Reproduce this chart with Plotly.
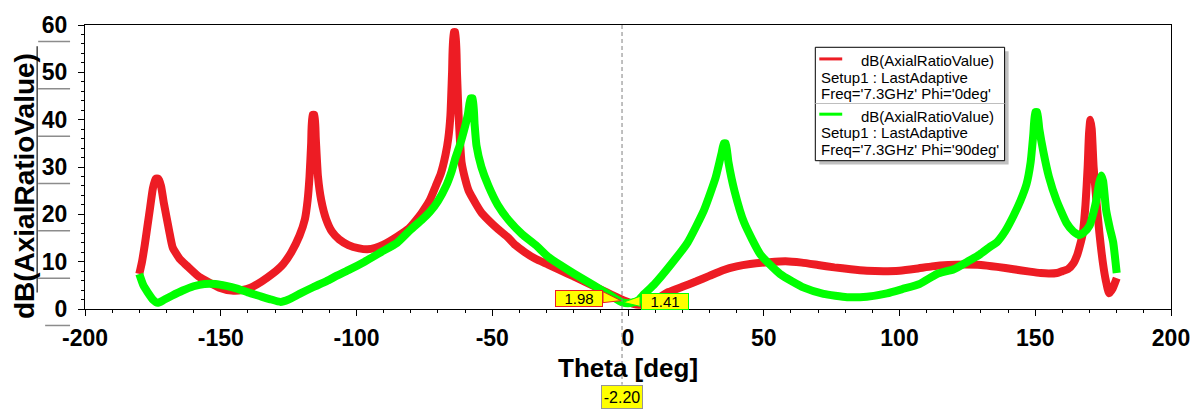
import plotly.graph_objects as go

# Axial ratio vs. theta, Phi = 0 deg cut
theta_phi0 = [-180, -179, -178, -177, -176, -175, -174, -173, -172, -171, -170, -169, -167.7, -165,
              -162.6, -158, -150.5, -146, -142, -139, -135, -131, -127, -124, -121, -119, -118,
              -117.3, -116.7, -116.2, -115.5, -115, -114.2, -113, -111.2, -109, -106.4, -103, -99,
              -96, -93, -90, -85, -80.7, -78, -76, -73, -70.8, -69, -67.2, -66.2, -65.4, -64.8,
              -64.2, -63.6, -63, -62.4, -61.3, -60, -58.7, -56, -53.9, -50, -47.7, -44, -41.5, -38,
              -34.1, -29.4, -25, -20, -15, -10, -6, -2.2, 0, 2, 4, 6, 8, 10, 15, 20, 25, 30, 35, 40,
              45, 52, 58, 64, 70, 76, 82, 88, 94, 100, 106, 112, 118, 124, 130, 136, 142, 148, 152,
              155, 158, 160, 162, 164, 165.5, 166.5, 167.5, 168.5, 169.3, 169.8, 170.3, 170.8, 171.5,
              172.5, 173.6, 175, 176, 177.2, 178.5, 180]
ar_phi0 = [7.4, 10, 13.5, 17.5, 21.5, 25.5, 27.5, 27.5, 26, 22.5, 19.5, 16.5, 13, 10.5,
           9.2, 6.8, 4.5, 3.9, 4.0, 4.5, 5.8, 7.4, 9.5, 12, 15.5, 19, 23,
           28, 35, 41, 41, 36, 28, 23, 19, 16.3, 14.7, 13.5, 12.8,
           12.6, 12.9, 13.6, 15.3, 17, 18.8, 20.3, 23, 26, 28.5, 32.6, 36, 41, 50,
           58.5, 58.5, 50, 41, 31, 27.5, 25, 22.2, 20.3, 18, 16.8, 15, 13.5, 12,
           10.6, 9.4, 8.2, 6.9, 5.5, 4.1, 3.0, 1.98, 1.5, 1.1, 0.9, 1.0, 1.4, 1.9, 3.6, 4.7, 5.8, 7, 8.2, 9.0,
           9.5, 9.9, 10.1, 9.8, 9.3, 8.8, 8.4, 8.1, 8.0, 8.1, 8.5, 9.0, 9.3, 9.4, 9.3, 8.9, 8.4, 7.9, 7.6,
           7.5, 7.6, 8.0, 8.4, 9.6, 11.5, 13.5, 16, 22, 30, 37, 40, 38, 30,
           23, 16.2, 9.4, 6, 3.3, 4.3, 6.5]

# Axial ratio vs. theta, Phi = 90 deg cut
theta_phi90 = [-180, -178.5, -177, -175, -173.2, -171, -168, -164, -160, -156, -152, -148, -144, -140,
               -136, -132, -128, -125, -121, -116, -111, -107, -103, -97, -91, -85, -80, -76, -73,
               -70, -67, -65, -63.5, -62, -60.5, -59, -58, -57.2, -56.5, -55.8, -54, -51.4, -48, -44,
               -39, -34, -29.4, -25, -20, -15, -10, -6, -2.2, 0, 2, 3.7, 6, 9.8, 15.8, 22, 28, 32.3,
               34.5, 35.3, 36, 37, 39.2, 42.8, 48.8, 56, 64.8, 72, 80.7, 88, 95.4, 101, 107.5, 113.8,
               120, 125, 129.5, 133, 136, 139, 142, 144.5, 146.8, 148.3, 149.3, 150, 150.7, 151.5,
               153, 155, 157.8, 161.5, 164, 166.2, 168, 170, 171.5, 172.5, 173.5, 174.3, 175, 176.1,
               177.5, 178.7, 180]
ar_phi90 = [7.4, 5, 3.6, 2, 1.3, 1.9, 2.8, 3.9, 4.8, 5.3, 5.3, 4.9, 4.3, 3.5,
            2.8, 2.1, 1.5, 2.0, 3.2, 4.6, 5.9, 7.1, 8.2, 10, 12, 14, 16.8, 18.8, 20.5,
            22.8, 26, 29, 32, 34.5, 37.5, 41, 44.5, 44.5, 39, 34.5, 30, 26, 22, 18.8,
            15.8, 13.5, 11, 9.3, 7.5, 5.8, 4.1, 2.7, 1.41, 1.2, 1.4, 1.8, 3.2, 5.3, 9.4, 14.1, 20.9, 27.8,
            33, 35, 35, 31, 25, 18.2, 11.5, 7.4, 4.5, 3.2, 2.5, 2.6, 3.3, 4.2, 5.3, 7.4,
            8.4, 10, 11.5, 13, 14.2, 16.5, 19.7, 22.8, 26.4, 31, 37, 41.6, 41.6, 38,
            33.2, 28, 23, 18.2, 16.4, 15.6, 16.2, 17.6, 20.5, 23, 26.5, 28.2, 27, 20.9,
            17, 14.1, 7.6]

x_tick_vals = [-200, -150, -100, -50, 0, 50, 100, 150, 200]
x_tick_text = ["-200", "-150", "-100", "-50", "0", "50", "100", "150", "200"]
y_tick_vals = [0, 10, 20, 30, 40, 50, 60]
y_tick_text = ["0", "10", "20", "30", "40", "50", "60"]

marker_theta = -2.2
marker_phi0 = 1.98
marker_phi90 = 1.41

legend_blocks = [
    ["dB(AxialRatioValue)", "Setup1 : LastAdaptive", "Freq='7.3GHz' Phi='0deg'"],
    ["dB(AxialRatioValue)", "Setup1 : LastAdaptive", "Freq='7.3GHz' Phi='90deg'"],
]

RED = "rgb(237,28,36)"
GREEN = "rgb(0,255,0)"
YELLOW = "rgb(255,255,0)"
FONT = "Liberation Sans, Arial, sans-serif"

W, H = 1202, 415
ML, MR, MT, MB = 85, 27, 16, 106
PW, PH = W - ML - MR, H - MT - MB


def px(xp):
    return (xp - ML) / PW


def py(yp):
    return (H - MB - yp) / PH


fig = go.Figure()
fig.add_trace(go.Scatter(x=theta_phi0, y=ar_phi0, mode="lines",
                         line=dict(color=RED, width=8, shape="spline", smoothing=0.5), hoverinfo="skip"))
fig.add_trace(go.Scatter(x=theta_phi90, y=ar_phi90, mode="lines",
                         line=dict(color=GREEN, width=8, shape="spline", smoothing=0.5), hoverinfo="skip"))

shapes = []
annotations = []

# marker line through the plot down to the theta readout
shapes.append(dict(type="line", xref="x", yref="paper", x0=marker_theta, x1=marker_theta,
                   y0=1, y1=py(387), line=dict(color="rgb(128,128,128)", width=1, dash="4px,3px")))
annotations.append(dict(xref="x", yref="paper", x=marker_theta, y=py(399.5), text="%.2f" % marker_theta,
                        xanchor="center", yanchor="middle",
                        showarrow=False, bgcolor=YELLOW, bordercolor="rgb(150,150,150)", borderwidth=1,
                        borderpad=1, width=38, height=20, font=dict(family=FONT, size=16, color="black")))

# value callouts
for val, dx, col, wedge in [
    (marker_phi0, -43, RED, "M -19 8 L -1 -1 L -19 -3 Z"),
    (marker_phi90, 43, GREEN, "M 18 6 L 1 0 L 18 -4 Z"),
]:
    shapes.append(dict(type="path", xref="x", yref="y", xsizemode="pixel", ysizemode="pixel",
                       xanchor=marker_theta, yanchor=val, path=wedge, fillcolor=YELLOW,
                       line=dict(color=col, width=1), layer="above"))
    annotations.append(dict(xref="x", yref="y", x=marker_theta, y=val, xshift=dx, yshift=1,
                            text="%.2f" % val, showarrow=False, bgcolor=YELLOW, bordercolor=col,
                            borderwidth=1, borderpad=0, width=46, height=15,
                            font=dict(family=FONT, size=15, color="black")))

# axis titles
annotations.append(dict(xref="paper", yref="paper", x=px(25), y=py(182), text="<b>dB(AxialRatioValue)</b>",
                        xanchor="center", yanchor="middle",
                        textangle=-90, showarrow=False, font=dict(family=FONT, size=28, color="black")))
shapes.append(dict(type="line", xref="paper", yref="paper", x0=px(37), x1=px(37), y0=py(38), y1=py(292),
                   line=dict(color="rgb(70,70,70)", width=1.5)))
annotations.append(dict(xref="paper", yref="paper", x=px(630), y=py(370), text="<b>Theta [deg]</b>",
                        xanchor="center", yanchor="middle",
                        showarrow=False, font=dict(family=FONT, size=26, color="black")))

# underlines beneath the y tick labels
for v in y_tick_vals:
    ty = H - MB - v * PH / 60 + 17
    x0 = 45 if v == 0 else 38
    shapes.append(dict(type="line", xref="paper", yref="paper", x0=px(x0), x1=px(70), y0=py(ty), y1=py(ty),
                       line=dict(color="rgb(140,140,140)", width=1.5)))

# legend box
lx0, ly0, lx1, ly1 = 818, 39, 1008, 156
shapes.append(dict(type="rect", xref="paper", yref="paper", x0=px(lx0 + 4), x1=px(lx1 + 4),
                   y0=py(ly0 + 4), y1=py(ly1 + 4), fillcolor="rgb(192,192,192)", line=dict(width=0)))
shapes.append(dict(type="rect", xref="paper", yref="paper", x0=px(lx0), x1=px(lx1),
                   y0=py(ly0), y1=py(ly1), fillcolor="white", line=dict(color="black", width=1)))
shapes.append(dict(type="line", xref="paper", yref="paper", x0=px(lx0), x1=px(lx1),
                   y0=py(97), y1=py(97), line=dict(color="rgb(190,190,190)", width=1)))
for lines, col, top in zip(legend_blocks, [RED, GREEN], [53, 110]):
    shapes.append(dict(type="line", xref="paper", yref="paper", x0=px(822), x1=px(845),
                       y0=py(top - 2), y1=py(top - 2), line=dict(color=col, width=3)))
    for i, txt in enumerate(lines):
        annotations.append(dict(xref="paper", yref="paper", x=px(862 if i == 0 else 822),
                                y=py(top + 17 * i), xanchor="left", yanchor="middle", text=txt,
                                showarrow=False, font=dict(family=FONT, size=15, color="black")))

fig.update_layout(
    width=W, height=H, margin=dict(l=ML, r=MR, t=MT, b=MB),
    paper_bgcolor="white", plot_bgcolor="white", showlegend=False,
    shapes=shapes, annotations=annotations,
    xaxis=dict(range=[-200, 200], tickvals=x_tick_vals, ticktext=x_tick_text, ticks="outside", ticklen=6,
               tickcolor="black", showline=True, linecolor="black", linewidth=1, mirror=True,
               showgrid=False, zeroline=False,
               tickfont=dict(family=FONT, size=23, color="black", weight="bold"), ticklabelstandoff=2,
               minor=dict(dtick=10, ticks="outside", ticklen=3, tickcolor="black")),
    yaxis=dict(range=[0, 60], tickvals=y_tick_vals, ticktext=y_tick_text, ticks="outside", ticklen=6,
               tickcolor="black", showline=True, linecolor="black", linewidth=1, mirror=True,
               showgrid=False, zeroline=False,
               tickfont=dict(family=FONT, size=23, color="black", weight="bold"), ticklabelstandoff=6,
               minor=dict(dtick=2, ticks="outside", ticklen=3, tickcolor="black")),
)

fig.write_html("out.html")
